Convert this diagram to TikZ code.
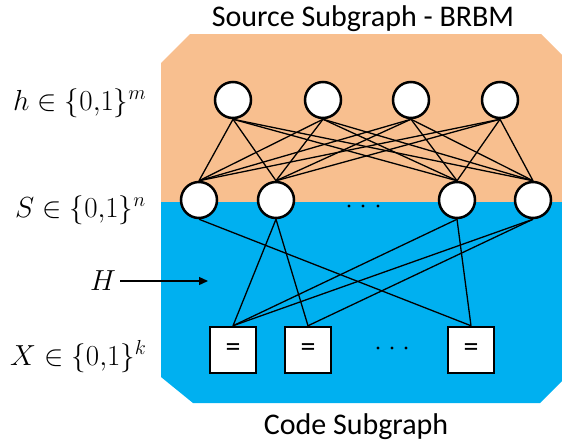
\RequirePackage{fix-cm}
\documentclass[tikz,border=0pt]{standalone}
\usepackage{fontspec}
\setsansfont{Carlito}
\usetikzlibrary{arrows.meta}
\definecolor{srcorange}{HTML}{F8BF8F}
\definecolor{codeblue}{HTML}{00B0F0}

\begin{document}
\begin{tikzpicture}[x=1pt,y=-1pt,
  unit/.style={circle,draw,line width=2.5pt,fill=white,minimum size=36pt,inner sep=0pt},
  checkbox/.style={rectangle,draw,line width=2.5pt,fill=white,minimum size=46pt,inner sep=0pt,font=\sffamily\fontsize{30}{34}\selectfont},
  link/.style={line width=1.3pt},
  lbl/.style={font=\fontsize{29}{33}\selectfont,anchor=base west,inner sep=0pt},
  caption/.style={font=\sffamily\fontsize{30}{34}\selectfont,inner sep=0pt,anchor=base},
  dot/.style={fill=black}
]
\useasboundingbox (0,0) rectangle (562,442);

% octagonal backdrop split into source (orange) and code (blue) parts
\begin{scope}
  \clip (190,34) -- (541,34) -- (569,62) -- (569,374) -- (540,403)
        -- (193,403) -- (161,377) -- (161,63) -- cycle;
  \fill[srcorange] (150,30) rectangle (575,202);
  \fill[codeblue] (150,202) rectangle (575,410);
\end{scope}

% hidden layer
\node[unit] (h1) at (233,100) {};
\node[unit] (h2) at (323,100) {};
\node[unit] (h3) at (411,100) {};
\node[unit] (h4) at (500,100) {};

% visible layer
\node[unit] (s1) at (199,200) {};
\node[unit] (s2) at (276,200) {};
\node[unit] (s3) at (457,200) {};
\node[unit] (s4) at (533,200) {};

% parity checks
\node[checkbox] (c1) at (233,350) {=};
\node[checkbox] (c2) at (308,350) {=};
\node[checkbox] (c3) at (471,350) {=};

% complete bipartite RBM links
\foreach \a in {h1,h2,h3,h4}
  \foreach \b in {s1,s2,s3,s4}
    \draw[link] (\a.south) -- (\b.north);

% code links
\draw[link] (s1.south) -- (c3.north);
\draw[link] (s2.south) -- (c1.north);
\draw[link] (s2.south) -- (c2.north);
\draw[link] (s3.south) -- (c1.north);
\draw[link] (s3.south) -- (c3.north);
\draw[link] (s4.south) -- (c1.north);
\draw[link] (s4.south) -- (c2.north);

% ellipses
\foreach \x in {349,363,378} \fill[dot] (\x,206) circle (1.6);
\foreach \x in {378,392,406} \fill[dot] (\x,348) circle (1.6);

% layer labels
\node[lbl] (lh) at (13,110) {$h\in\{0{,}1\}^m$};
\node[lbl] (ls) at (15,217) {$S\in\{0{,}1\}^n$};
\node[lbl] (lH) at (90,290) {$H$};
\node[lbl] (lx) at (10,365) {$X\in\{0{,}1\}^k$};

\coordinate (Hstart) at (120,281);
\coordinate (Htip) at (208,281);
\draw[link,-{Triangle[length=9pt,width=8pt]}] (Hstart) -- (Htip);

% captions
\node[caption] (top) at (363,26) {Source Subgraph - BRBM};
\node[caption] (bottom) at (356,434) {Code Subgraph};
\end{tikzpicture}
\end{document}
